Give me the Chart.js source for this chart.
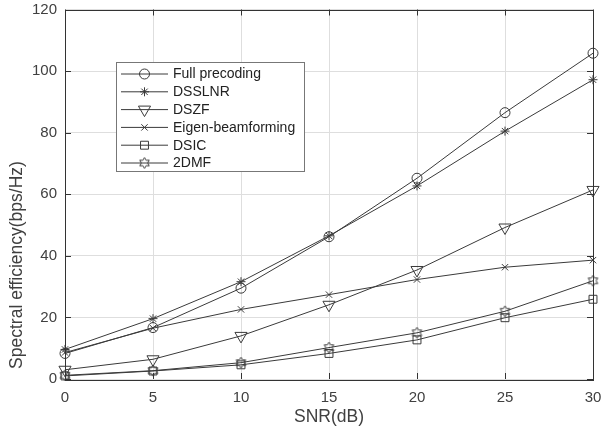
<!DOCTYPE html>
<html>
<head>
<meta charset="utf-8">
<script src="https://cdn.jsdelivr.net/npm/chart.js@4/dist/chart.umd.min.js"></script>
<style>
  html, body { margin: 0; padding: 0; background: #fff; }
  canvas { display: block; }
</style>
</head>
<body>
<canvas id="chart" width="602" height="430"></canvas>
<script>
const snr = [0, 5, 10, 15, 20, 25, 30];
const xTicks = [0, 5, 10, 15, 20, 25, 30];
const yTicks = [0, 20, 40, 60, 80, 100, 120];

const fullPrecoding = [8.3, 16.7, 29.5, 46.2, 65.2, 86.5, 105.8];
const dsslnr = [9.6, 19.6, 31.6, 46.5, 62.7, 80.5, 97.2];
const dszf = [3.0, 6.4, 14.0, 24.1, 35.4, 49.2, 61.4];
const eigenBf = [8.6, 16.5, 22.6, 27.4, 32.3, 36.3, 38.6];
const dsic = [1.0, 2.6, 4.6, 8.3, 12.7, 19.9, 25.9];
const dmf2 = [1.2, 2.7, 5.3, 10.2, 15.0, 22.0, 31.9];

const lineColor = "#3a3a3a";
const axisColor = "#333";
const textColor = "#404040";
const fontFamily = "'Liberation Sans', Arial, sans-serif";

// hexagram marker (MATLAB 'h')
function makeHexagram(r) {
  const size = Math.ceil(r * 2 + 4);
  const c = document.createElement("canvas");
  c.width = size;
  c.height = size;
  const g = c.getContext("2d");
  const cx = size / 2, cy = size / 2;
  const inner = r / Math.sqrt(3);
  g.beginPath();
  for (let i = 0; i < 12; i++) {
    const a = -Math.PI / 2 + (i * Math.PI) / 6;
    const rr = i % 2 === 0 ? r : inner;
    const px = cx + Math.cos(a) * rr;
    const py = cy + Math.sin(a) * rr;
    if (i === 0) g.moveTo(px, py);
    else g.lineTo(px, py);
  }
  g.closePath();
  g.strokeStyle = lineColor;
  g.lineWidth = 1;
  g.stroke();
  return c;
}
const hexMarker = makeHexagram(5.5);

function series(label, data, pointStyle, radius, rotation) {
  return {
    label: label,
    data: snr.map((x, i) => ({ x: x, y: data[i] })),
    borderColor: lineColor,
    backgroundColor: "rgba(0,0,0,0)",
    borderWidth: 1,
    pointStyle: pointStyle,
    pointRadius: radius,
    pointRotation: rotation || 0,
    pointBorderColor: lineColor,
    pointBackgroundColor: "rgba(0,0,0,0)",
    pointBorderWidth: 1,
    tension: 0,
    clip: false,
  };
}

const datasets = [
  series("Full precoding", fullPrecoding, "circle", 5),
  series("DSSLNR", dsslnr, "star", 4.5),
  series("DSZF", dszf, "triangle", 7, 180),
  series("Eigen-beamforming", eigenBf, "crossRot", 4.5),
  series("DSIC", dsic, "rect", 5.6),
  series("2DMF", dmf2, hexMarker, 5.5),
];

const frame = {
  id: "frame",
  afterDraw(chart) {
    const ctx = chart.ctx;
    const a = chart.chartArea;
    const xs = chart.scales.x;
    const ys = chart.scales.y;
    ctx.save();
    ctx.strokeStyle = axisColor;
    ctx.lineWidth = 1;
    ctx.strokeRect(Math.round(a.left) + 0.5, Math.round(a.top) + 0.5,
      Math.round(a.right - a.left), Math.round(a.bottom - a.top));
    ctx.beginPath();
    xTicks.forEach((v) => {
      const px = Math.round(xs.getPixelForValue(v)) + 0.5;
      ctx.moveTo(px, a.bottom); ctx.lineTo(px, a.bottom - 6);
      ctx.moveTo(px, a.top); ctx.lineTo(px, a.top + 6);
    });
    yTicks.forEach((v) => {
      const py = Math.round(ys.getPixelForValue(v)) + 0.5;
      ctx.moveTo(a.left, py); ctx.lineTo(a.left + 6, py);
      ctx.moveTo(a.right, py); ctx.lineTo(a.right - 6, py);
    });
    ctx.stroke();

    // y axis title (sits below the axis centre in the original)
    ctx.save();
    ctx.translate(17, 265);
    ctx.rotate(-Math.PI / 2);
    ctx.font = "17.5px " + fontFamily;
    ctx.fillStyle = textColor;
    ctx.textAlign = "center";
    ctx.textBaseline = "middle";
    ctx.fillText("Spectral efficiency(bps/Hz)", 0, 0);
    ctx.restore();

    // legend box
    const bx = 116.5, by = 62.5, bw = 188, bh = 109;
    ctx.fillStyle = "#fff";
    ctx.fillRect(bx, by, bw, bh);
    ctx.strokeStyle = "#777";
    ctx.strokeRect(bx, by, bw, bh);
    ctx.font = "14px " + fontFamily;
    ctx.textBaseline = "middle";
    chart.data.datasets.forEach((ds, i) => {
      const y = 74 + i * 17.8;
      ctx.strokeStyle = lineColor;
      ctx.fillStyle = "rgba(0,0,0,0)";
      ctx.lineWidth = 1;
      ctx.beginPath();
      ctx.moveTo(121, y); ctx.lineTo(168, y);
      ctx.stroke();
      Chart.helpers.drawPoint(ctx, {
        pointStyle: ds.pointStyle,
        radius: ds.pointRadius,
        rotation: ds.pointRotation,
        borderWidth: 1,
      }, 144.5, y);
      ctx.fillStyle = "#222";
      ctx.fillText(ds.label, 173, y + 0.5);
    });
    ctx.restore();
  },
};

new Chart(document.getElementById("chart"), {
  type: "line",
  data: { datasets: datasets },
  plugins: [frame],
  options: {
    responsive: false,
    animation: false,
    events: [],
    layout: { padding: { left: 0, right: 9, top: 9.5, bottom: 0 } },
    plugins: { legend: { display: false }, tooltip: { enabled: false } },
    scales: {
      x: {
        type: "linear",
        min: 0,
        max: 30,
        afterFit: (s) => { s.height = 51; s.paddingLeft = 0; s.paddingRight = 0; },
        afterBuildTicks: (s) => { s.ticks = xTicks.map((v) => ({ value: v })); },
        grid: { color: "#dedede", drawTicks: false },
        border: { display: false },
        ticks: {
          color: textColor,
          padding: 10,
          maxRotation: 0,
          font: { family: fontFamily, size: 15 },
        },
        title: {
          display: true,
          text: "SNR(dB)",
          color: textColor,
          padding: { top: 0, bottom: 2 },
          font: { family: fontFamily, size: 17.5 },
        },
      },
      y: {
        type: "linear",
        min: 0,
        max: 120,
        afterFit: (s) => { s.width = 65; s.paddingTop = 0; s.paddingBottom = 0; },
        afterBuildTicks: (s) => { s.ticks = yTicks.map((v) => ({ value: v })); },
        grid: { color: "#dedede", drawTicks: false },
        border: { display: false },
        ticks: {
          color: textColor,
          padding: 8,
          font: { family: fontFamily, size: 15 },
        },
      },
    },
  },
});
</script>
</body>
</html>
